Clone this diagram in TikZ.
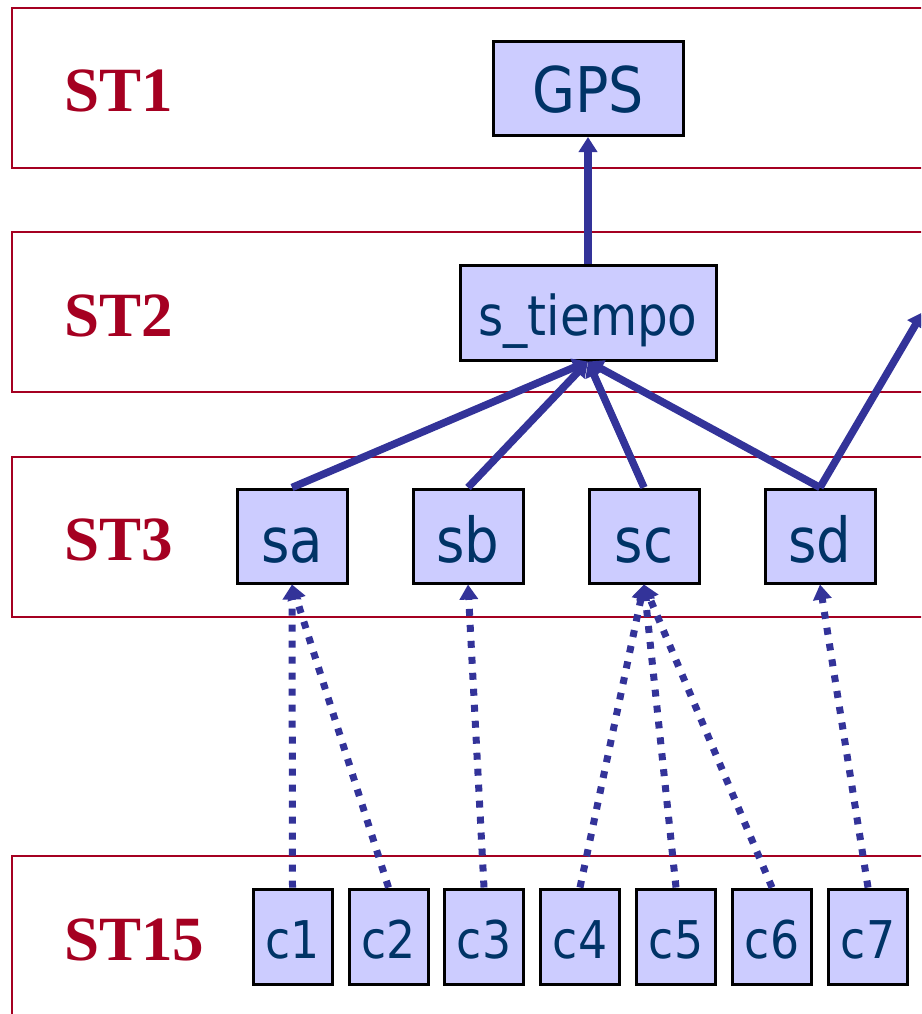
\documentclass[tikz,border=0pt]{standalone}
\usepackage{fontspec}
\setmainfont{Liberation Serif}
\newfontfamily\boxfont[FakeStretch=0.88]{DejaVu Sans}
\usetikzlibrary{arrows.meta}
\definecolor{bandred}{HTML}{A50021}
\definecolor{boxfill}{HTML}{CCCCFF}
\definecolor{boxtext}{HTML}{003366}
\definecolor{arrowblue}{HTML}{333399}
\begin{document}
\begin{tikzpicture}[x=1pt,y=-1pt,
  band/.style={draw=bandred, line width=2.5pt},
  bandlabel/.style={anchor=west, text=bandred, inner sep=0pt,
    font=\fontsize{63}{63}\selectfont\bfseries},
  boxbase/.style={draw=black, line width=3pt, fill=boxfill, text=boxtext, inner sep=0pt, text depth=0pt},
  gpsbox/.style={boxbase, minimum width=190pt, minimum height=94pt, text height=49pt, font=\boxfont\fontsize{63}{63}\selectfont},
  timebox/.style={boxbase, minimum width=256pt, minimum height=95pt, text height=45pt, font=\boxfont\fontsize{55}{55}\selectfont},
  midbox/.style={boxbase, minimum width=110pt, minimum height=94pt, text height=52pt, font=\boxfont\fontsize{62}{62}\selectfont},
  cbox/.style={boxbase, minimum width=79pt, minimum height=95pt, text height=43pt, font=\boxfont\fontsize{52}{52}\selectfont},
  solidarrow/.style={draw=arrowblue, line width=7.5pt, -{Triangle[width=18pt,length=15pt]}},
  dotarrow/.style={draw=arrowblue, line width=7pt, dash pattern=on 7pt off 9pt, -{Triangle[width=18pt,length=15pt]}}
]
\useasboundingbox (0,0) rectangle (921,1014);
\clip (0,0) rectangle (921,1014);
% bands
\draw[band] (12,8) rectangle (980,168);
\draw[band] (12,232) rectangle (980,392);
\draw[band] (12,457) rectangle (980,617);
\draw[band] (12,856) rectangle (980,1080);
\node[bandlabel] (l1) at (64,90.5) {ST1};
\node[bandlabel] (l2) at (64,316) {ST2};
\node[bandlabel] (l3) at (64,540) {ST3};
\node[bandlabel] (l15) at (64,939.5) {ST15};
% boxes
\node[gpsbox] (gps) at (588,88.5) {GPS};
\node[timebox] (st) at (588,312.5) {s\_tiempo};
\node[midbox] (sa) at (292,536) {sa};
\node[midbox] (sb) at (468,536) {sb};
\node[midbox] (sc) at (644,536) {sc};
\node[midbox] (sd) at (820,536) {sd};
\foreach \i/\x in {1/292.5,2/388.5,3/484,4/580,5/676,6/772,7/868}
  \node[cbox] (c\i) at (\x,936.5) {c\i};
\coordinate (out) at (923,312);
% solid arrows
\draw[solidarrow] (st.north) -- (gps.south);
\draw[solidarrow] (sa.north) -- (st.south);
\draw[solidarrow] (sb.north) -- (st.south);
\draw[solidarrow] (sc.north) -- (st.south);
\draw[solidarrow] (sd.north) -- (st.south);
\draw[solidarrow] (sd.north) -- (out);
% dotted arrows
\draw[dotarrow] (c1.north) -- (sa.south);
\draw[dotarrow] (c2.north) -- (sa.south);
\draw[dotarrow] (c3.north) -- (sb.south);
\draw[dotarrow] (c4.north) -- (sc.south);
\draw[dotarrow] (c5.north) -- (sc.south);
\draw[dotarrow] (c6.north) -- (sc.south);
\draw[dotarrow] (c7.north) -- (sd.south);
\end{tikzpicture}
\end{document}
